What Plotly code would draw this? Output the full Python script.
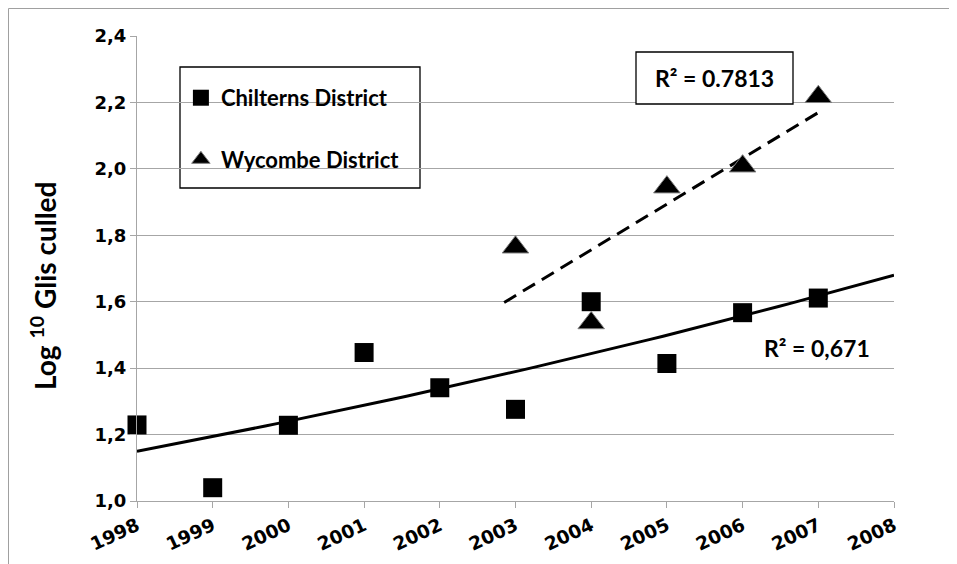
import numpy as np
import plotly.graph_objects as go

years = [1998, 1999, 2000, 2001, 2002, 2003, 2004, 2005, 2006, 2007]
chilterns = [1.229, 1.04, 1.228, 1.447, 1.341, 1.276, 1.60, 1.414, 1.567, 1.611]
wyc_years = [2003, 2004, 2005, 2006, 2007]
wycombe = [1.764, 1.536, 1.945, 2.008, 2.217]
y_ticks = [1.0, 1.2, 1.4, 1.6, 1.8, 2.0, 2.2, 2.4]
x_ticks = list(range(1998, 2009))
r2_chil = "R² = 0,671"
r2_wyc = "R² = 0.7813"

FONT = "Lato"
TICKFONT = "DejaVu Sans"

# trend lines fitted from the data
b1, a1 = np.polyfit(np.asarray(years, float) - 1998, np.log(chilterns), 1)
cx = np.linspace(1998, 2008, 60)
cy = np.exp(a1 + b1 * (cx - 1998))

b2, a2 = np.polyfit(np.asarray(wyc_years, float) - 1998, wycombe, 1)
wx = np.linspace(2002.85, 2007, 20)
wy = a2 + b2 * (wx - 1998)

fig = go.Figure()
fig.add_trace(go.Scatter(x=cx, y=cy, mode="lines", line=dict(color="black", width=3),
                         showlegend=False, hoverinfo="skip"))
fig.add_trace(go.Scatter(x=wx, y=wy, mode="lines", line=dict(color="black", width=3, dash="14px,8px"),
                         showlegend=False, hoverinfo="skip"))
fig.add_trace(go.Scatter(x=years, y=chilterns, mode="markers", name="Chilterns District",
                         legendgroup="a", cliponaxis=False,
                         marker=dict(symbol="square", size=19, color="black")))
fig.add_trace(go.Scatter(x=wyc_years, y=wycombe, mode="markers", name="Wycombe District",
                         legendgroup="b", cliponaxis=False,
                         marker=dict(symbol="triangle-up", size=23, color="black",
                                     line=dict(color="#7f7f7f", width=1))))

grid = "#a6a6a6"
# page body has an 8px margin: plot area spans x 137..894, y 36..501 in the window
W, H = 949, 556
L, T = 129, 28
fig.update_layout(
    width=W, height=H,
    margin=dict(l=L, r=W - (894 - 8), t=T, b=H - (501 - 8)),
    paper_bgcolor="white", plot_bgcolor="white",
    separators=", ",
    font=dict(family=FONT, size=16, color="black", weight="bold"),
    legend=dict(x=0.058, y=0.912, xanchor="left", yanchor="top",
                bgcolor="rgba(0,0,0,0)", borderwidth=0,
                tracegroupgap=30, font=dict(size=22, family=FONT, weight="bold"),
                itemwidth=30),
    xaxis=dict(range=[1998, 2008], tickvals=x_ticks, tickformat="d", tickangle=-25,
               showgrid=False, showline=True, linecolor=grid, linewidth=1,
               ticks="outside", ticklen=6, tickcolor=grid, zeroline=False,
               automargin=False,
               tickfont=dict(size=18.5, family=TICKFONT, weight="bold")),
    yaxis=dict(range=[1.0, 2.4], tickvals=y_ticks, tickformat=".1f",
               showgrid=True, gridcolor=grid, gridwidth=1,
               showline=True, linecolor=grid, linewidth=1,
               ticks="outside", ticklen=6, tickcolor=grid, zeroline=False,
               automargin=False,
               tickfont=dict(size=18, family=TICKFONT, weight="bold")),
    shapes=[
        dict(type="rect", xref="paper", yref="paper", x0=(8.5 - 137) / 757, x1=1.2,
             y0=-0.3, y1=(501 - 8.5) / 465,
             line=dict(color="#a0a0a0", width=1), layer="below"),
        dict(type="rect", xref="paper", yref="paper", x0=(180 - 137) / 757, x1=(420 - 137) / 757,
             y0=(501 - 188) / 465, y1=(501 - 67) / 465, line=dict(color="black", width=1.3),
             fillcolor="white", layer="below"),
        dict(type="rect", xref="paper", yref="paper", x0=(636 - 137) / 757, x1=(793 - 137) / 757,
             y0=(501 - 104) / 465, y1=(501 - 52) / 465, line=dict(color="black", width=1.3),
             fillcolor="white", layer="above"),
    ],
    annotations=[
        dict(text="Log <sup>10</sup> Glis culled", xref="paper", yref="paper",
             x=(43 - 137) / 757, y=(501 - 286) / 465, textangle=-90, showarrow=False,
             xanchor="center", yanchor="middle",
             font=dict(size=28, family=FONT, weight="bold")),
        dict(text=r2_wyc, xref="paper", yref="paper", x=(714.5 - 137) / 757, y=(501 - 78) / 465,
             showarrow=False, xanchor="center", yanchor="middle",
             font=dict(size=23, family=FONT, weight="bold")),
        dict(text=r2_chil, xref="paper", yref="paper", x=(817 - 137) / 757, y=(501 - 348) / 465,
             showarrow=False, xanchor="center", yanchor="middle",
             font=dict(size=23, family=FONT, weight="bold")),
    ],
)

fig.write_html("out.html")
